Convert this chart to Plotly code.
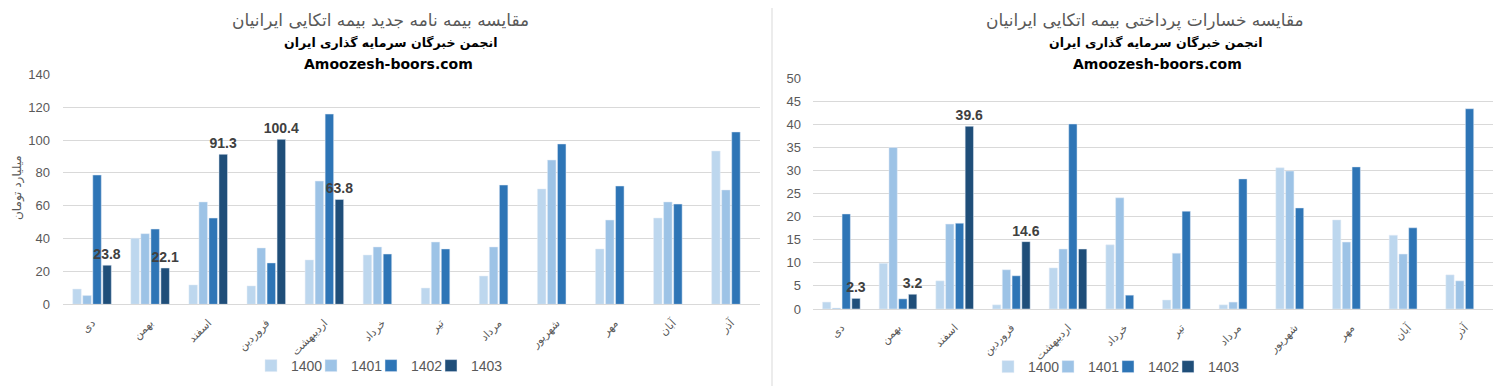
import plotly.graph_objects as go

months = ["دی", "بهمن", "اسفند", "فروردین", "اردیبهشت", "خرداد", "تیر", "مرداد", "شهریور", "مهر", "آبان", "آذر"]
years = ["1400", "1401", "1402", "1403"]

# Left chart: new premiums (billion toman)
prem_1400 = [9.3, 40.2, 11.8, 11.2, 27.0, 30.0, 9.9, 17.2, 70.2, 33.7, 52.5, 93.3]
prem_1401 = [5.3, 43.0, 62.3, 34.3, 75.0, 34.9, 37.9, 34.9, 87.8, 51.3, 62.3, 69.6]
prem_1402 = [78.7, 45.8, 52.5, 25.2, 115.8, 30.6, 33.7, 72.6, 97.6, 72.0, 61.0, 104.9]
prem_1403 = [23.8, 22.1, 91.3, 100.4, 63.8, None, None, None, None, None, None, None]
prem_1403_labels = ["23.8", "22.1", "91.3", "100.4", "63.8", "", "", "", "", "", "", ""]

# Right chart: paid claims
claim_1400 = [1.5, 9.9, 6.1, 0.9, 8.9, 13.9, 1.95, 0.9, 30.6, 19.3, 16.0, 7.4]
claim_1401 = [0.2, 35.0, 18.4, 8.5, 13.0, 24.1, 12.1, 1.5, 29.9, 14.5, 11.9, 6.1]
claim_1402 = [20.6, 2.2, 18.6, 7.2, 40.1, 3.0, 21.2, 28.2, 21.9, 30.8, 17.6, 43.4]
claim_1403 = [2.3, 3.2, 39.6, 14.6, 13.0, None, None, None, None, None, None, None]
claim_1403_labels = ["2.3", "3.2", "39.6", "14.6", "", "", "", "", "", "", "", ""]

colors = ["#BDD7EE", "#9DC3E6", "#2E75B6", "#1F4E79"]

title_left = "مقایسه بیمه نامه جدید بیمه اتکایی ایرانیان"
title_right = "مقایسه خسارات پرداختی بیمه اتکایی ایرانیان"
subtitle = "انجمن خبرگان سرمایه گذاری ایران"
site = "Amoozesh-boors.com"
ytitle_left = "میلیارد تومان"

# page body has an 8px default margin; figure sized to fill the rest of the window
OFF = 8
W, H = 1506 - OFF, 386 - OFF
PF = "DejaVu Sans"
TF = "Liberation Sans"


def px(x):
    return (x - OFF) / W


def py(y):
    return (H - (y - OFF)) / H


fig = go.Figure()

left_series = [prem_1400, prem_1401, prem_1402, prem_1403]
right_series = [claim_1400, claim_1401, claim_1402, claim_1403]

# one legend per entry so entries can sit as close together as in the reference
legend_item_x_left = [251, 311, 371, 431]
legend_item_x_right = [988, 1048, 1108, 1168]
legend_style = dict(orientation="h", xanchor="left", yanchor="middle",
                    font=dict(family=TF, size=14, color="#595959"),
                    itemwidth=30, bgcolor="rgba(0,0,0,0)", borderwidth=0)
legend_layout = {}


def add_group(series, labels, xa, ya, leg_ids, leg_xs, leg_y):
    for i, (yr, vals) in enumerate(zip(years, series)):
        kw = {}
        if yr == "1403":
            kw = dict(text=["<b>" + t + "</b>" if t else "" for t in labels],
                      texttemplate="%{text}", textposition="outside",
                      textfont=dict(color="#404040", size=14, family=TF),
                      constraintext="none", cliponaxis=False)
        lid = leg_ids[i]
        fig.add_trace(go.Bar(x=months, y=vals, name=yr, marker_color=colors[i],
                             xaxis=xa, yaxis=ya, legend=lid, **kw))
        legend_layout[lid] = dict(x=px(leg_xs[i]), y=py(leg_y), **legend_style)


add_group(left_series, prem_1403_labels, "x", "y",
          ["legend", "legend2", "legend3", "legend4"], legend_item_x_left, 366)
add_group(right_series, claim_1403_labels, "x2", "y2",
          ["legend5", "legend6", "legend7", "legend8"], legend_item_x_right, 367)

grid = "#D9D9D9"
tickfont_y = dict(family=TF, size=13, color="#595959")
tickfont_x = dict(family=PF, size=11, color="#595959")

fig.update_layout(
    width=W, height=H,
    margin=dict(l=0, r=0, t=0, b=0, autoexpand=False),
    paper_bgcolor="white", plot_bgcolor="white",
    barmode="group", bargap=0.31, bargroupgap=0.15,
    xaxis=dict(domain=[px(63), px(760)], anchor="y", tickangle=-45,
               tickfont=tickfont_x, showline=True, linecolor=grid,
               ticks="", showgrid=False, automargin=False, ticklabelstandoff=7),
    yaxis=dict(domain=[py(304.3), py(74.3)], anchor="x", range=[0, 140], dtick=20,
               gridcolor=grid, tickfont=tickfont_y, showline=False,
               zeroline=False, ticklabelstandoff=12, automargin=False),
    xaxis2=dict(domain=[px(813), px(1493)], anchor="y2", tickangle=-45,
                tickfont=tickfont_x, showline=True, linecolor=grid,
                ticks="", showgrid=False, automargin=False, ticklabelstandoff=7),
    yaxis2=dict(domain=[py(309), py(78.3)], anchor="x2", range=[0, 50], dtick=5,
                gridcolor=grid, tickfont=tickfont_y, showline=False,
                zeroline=False, ticklabelstandoff=11, automargin=False),
    showlegend=True,
    **legend_layout,
)

ann = []
for cx, t in [(380, title_left), (1145, title_right)]:
    ann.append(dict(text=t, x=px(cx), y=py(20), xref="paper", yref="paper",
                    showarrow=False, xanchor="center", yanchor="middle",
                    font=dict(family=PF, size=17, color="#595959")))
for cx in (390, 1155):
    ann.append(dict(text="<b>" + subtitle + "</b>", x=px(cx), y=py(42), xref="paper", yref="paper",
                    showarrow=False, xanchor="center", yanchor="middle",
                    font=dict(family=PF, size=12.5, color="black")))
for cx in (388, 1157):
    ann.append(dict(text="<b>" + site + "</b>", x=px(cx), y=py(64), xref="paper", yref="paper",
                    showarrow=False, xanchor="center", yanchor="middle",
                    font=dict(family=PF, size=14, color="black")))
ann.append(dict(text=ytitle_left, x=px(17), y=py(188), xref="paper", yref="paper",
                showarrow=False, textangle=-90, xanchor="center", yanchor="middle",
                font=dict(family=PF, size=12, color="#595959")))
fig.update_layout(annotations=ann)

fig.add_shape(type="line", xref="paper", yref="paper", x0=px(772), x1=px(772), y0=0, y1=1,
              line=dict(color=grid, width=1))

fig.write_html("out.html")
